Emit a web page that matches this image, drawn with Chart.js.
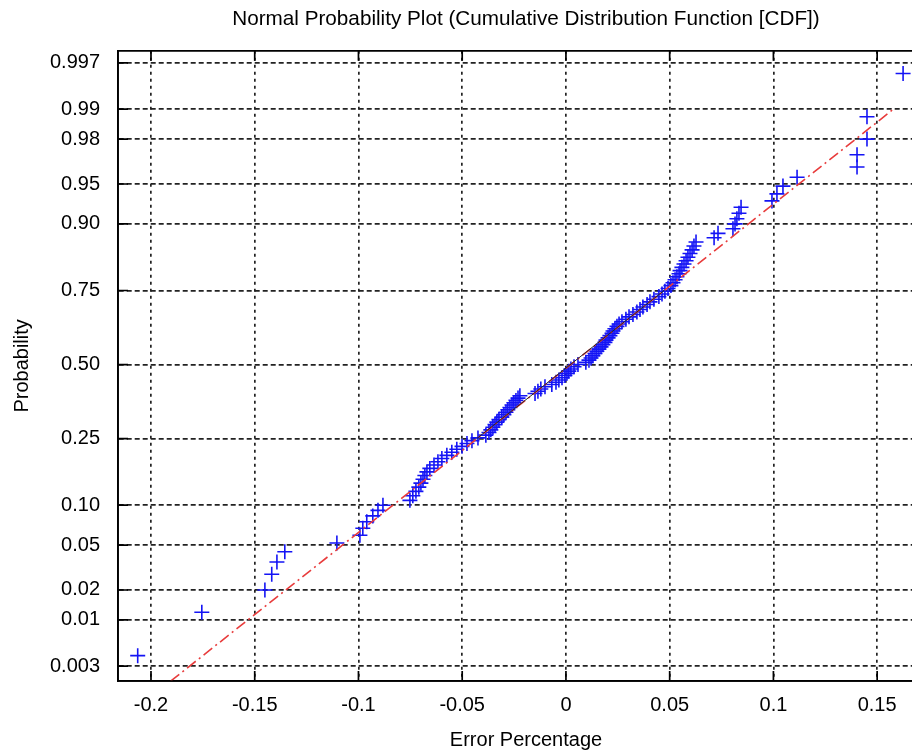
<!DOCTYPE html>
<html><head><meta charset="utf-8">
<script src="https://cdn.jsdelivr.net/npm/chart.js@4.4.1/dist/chart.umd.min.js"></script>
<style>
html,body{margin:0;padding:0;background:#fff;overflow:hidden;}
#wrap{position:relative;width:1052px;height:752px;}
</style></head><body>
<div id="wrap"><canvas id="c"></canvas></div>
<script>
// ---- data ----
const errorValues = [
 -0.2064,-0.1755,-0.1451,-0.1418,-0.1393,-0.1355,-0.1104,-0.0993,-0.0979,-0.0960,
 -0.0931,-0.0906,-0.0882,-0.0752,-0.0738,-0.0723,-0.0709,-0.0699,-0.0689,-0.0680,
 -0.0670,-0.0656,-0.0636,-0.0617,-0.0598,-0.0574,-0.0550,-0.0526,-0.0501,-0.0477,
 -0.0453,-0.0424,-0.0386,-0.0371,-0.0362,-0.0352,-0.0342,-0.0333,-0.0323,-0.0309,
 -0.0299,-0.0289,-0.0280,-0.0270,-0.0260,-0.0251,-0.0241,-0.0231,-0.0222,-0.0149,
 -0.0135,-0.0121,-0.0101,-0.0068,-0.0048,-0.0034,-0.0019,-0.0005,0.0005,0.0014,
 0.0024,0.0039,0.0058,0.0096,0.0111,0.0121,0.0130,0.0140,0.0149,0.0159,
 0.0169,0.0178,0.0188,0.0193,0.0203,0.0212,0.0222,0.0227,0.0236,0.0246,
 0.0256,0.0270,0.0289,0.0304,0.0323,0.0342,0.0357,0.0371,0.0391,0.0405,
 0.0424,0.0448,0.0463,0.0477,0.0492,0.0506,0.0516,0.0526,0.0535,0.0545,
 0.0550,0.0559,0.0569,0.0579,0.0588,0.0598,0.0608,0.0617,0.0627,0.0714,
 0.0733,0.0805,0.0815,0.0824,0.0834,0.0844,0.0993,0.1017,0.1046,0.1114,
 0.1403,0.1403,0.1451,0.1451,0.1625
];
const probabilities = [
 0.004,0.012,0.020,0.028,0.036,0.044,0.052,0.060,0.068,0.076,
 0.084,0.092,0.100,0.108,0.116,0.124,0.132,0.140,0.148,0.156,
 0.164,0.172,0.180,0.188,0.196,0.204,0.212,0.220,0.228,0.236,
 0.244,0.252,0.260,0.268,0.276,0.284,0.292,0.300,0.308,0.316,
 0.324,0.332,0.340,0.348,0.356,0.364,0.372,0.380,0.388,0.396,
 0.404,0.412,0.420,0.428,0.436,0.444,0.452,0.460,0.468,0.476,
 0.484,0.492,0.500,0.508,0.516,0.524,0.532,0.540,0.548,0.556,
 0.564,0.572,0.580,0.588,0.596,0.604,0.612,0.620,0.628,0.636,
 0.644,0.652,0.660,0.668,0.676,0.684,0.692,0.700,0.708,0.716,
 0.724,0.732,0.740,0.748,0.756,0.764,0.772,0.780,0.788,0.796,
 0.804,0.812,0.820,0.828,0.836,0.844,0.852,0.860,0.868,0.876,
 0.884,0.892,0.900,0.908,0.916,0.924,0.932,0.940,0.948,0.956,
 0.964,0.972,0.980,0.988,0.996
];
const fitLineX = [-0.2064, 0.1586];
const fitLineP = [0.0009, 0.9903];
const quartileLineX = [-0.0430, 0.0473];
const quartileLineP = [0.25, 0.75];
const xTickValues = [-0.2, -0.15, -0.1, -0.05, 0, 0.05, 0.1, 0.15];
const xTickLabels = ['-0.2', '-0.15', '-0.1', '-0.05', '0', '0.05', '0.1', '0.15'];
const yTickProbs  = [0.003, 0.01, 0.02, 0.05, 0.10, 0.25, 0.50, 0.75, 0.90, 0.95, 0.98, 0.99, 0.997];
const yTickLabels = ['0.003', '0.01', '0.02', '0.05', '0.10', '0.25', '0.50', '0.75', '0.90', '0.95', '0.98', '0.99', '0.997'];

// probability -> standard normal quantile (probit axis)
function probit(p) {
  const a = [-3.969683028665376e+01, 2.209460984245205e+02, -2.759285104469687e+02, 1.383577518672690e+02, -3.066479806614716e+01, 2.506628277459239e+00];
  const b = [-5.447609879822406e+01, 1.615858368580409e+02, -1.556989798598866e+02, 6.680131188771972e+01, -1.328068155288572e+01];
  const c = [-7.784894002430293e-03, -3.223964580411365e-01, -2.400758277161838e+00, -2.549732539343734e+00, 4.374664141464968e+00, 2.938163982698783e+00];
  const d = [7.784695709041462e-03, 3.224671290700398e-01, 2.445134137142996e+00, 3.754408661907416e+00];
  const pl = 0.02425, ph = 1 - pl;
  let q, r;
  if (p < pl) { q = Math.sqrt(-2 * Math.log(p)); return (((((c[0]*q+c[1])*q+c[2])*q+c[3])*q+c[4])*q+c[5]) / ((((d[0]*q+d[1])*q+d[2])*q+d[3])*q+1); }
  if (p <= ph) { q = p - 0.5; r = q*q; return (((((a[0]*r+a[1])*r+a[2])*r+a[3])*r+a[4])*r+a[5])*q / (((((b[0]*r+b[1])*r+b[2])*r+b[3])*r+b[4])*r+1); }
  q = Math.sqrt(-2 * Math.log(1 - p)); return -(((((c[0]*q+c[1])*q+c[2])*q+c[3])*q+c[4])*q+c[5]) / ((((d[0]*q+d[1])*q+d[2])*q+d[3])*q+1);
}

Chart.defaults.font.family = "'Liberation Sans', Arial, sans-serif";
Chart.defaults.color = '#000';

const frameTicks = {
  id: 'frameTicks',
  afterDatasetsDraw(chart) {
    const {ctx, chartArea: a, scales: {x, y}} = chart;
    ctx.save();
    ctx.strokeStyle = '#000'; ctx.lineWidth = 1.7; ctx.setLineDash([]);
    ctx.beginPath();
    ctx.moveTo(a.left, a.top); ctx.lineTo(a.right, a.top); ctx.lineTo(a.right, a.bottom);
    ctx.moveTo(a.left, a.top); ctx.lineTo(a.left, a.bottom); ctx.lineTo(a.right, a.bottom);
    x.ticks.forEach(t => { const px = x.getPixelForValue(t.value);
      ctx.moveTo(px, a.bottom); ctx.lineTo(px, a.bottom - 10);
      ctx.moveTo(px, a.top); ctx.lineTo(px, a.top + 10); });
    y.ticks.forEach(t => { const py = y.getPixelForValue(t.value);
      ctx.moveTo(a.left, py); ctx.lineTo(a.left + 10, py);
      ctx.moveTo(a.right, py); ctx.lineTo(a.right - 10, py); });
    ctx.stroke();
    ctx.restore();
  }
};

new Chart(document.getElementById('c'), {
  type: 'scatter',
  data: {
    datasets: [
      {
        label: 'Data',
        data: errorValues.map((v, i) => ({x: v, y: probit(probabilities[i])})),
        pointStyle: 'cross', pointRadius: 7.5, pointBorderColor: 'rgb(20,20,245)', pointBorderWidth: 1.6,
        borderColor: 'rgb(20,20,245)', showLine: false, order: 2
      },
      {
        label: 'Fit',
        data: fitLineX.map((v, i) => ({x: v, y: probit(fitLineP[i])})),
        showLine: true, borderColor: 'rgb(232,60,60)', borderWidth: 1.6, borderDash: [11, 4, 2, 4],
        pointRadius: 0, order: 1
      },
      {
        label: 'Quartiles',
        data: quartileLineX.map((v, i) => ({x: v, y: probit(quartileLineP[i])})),
        showLine: true, borderColor: 'rgb(40,40,40)', borderWidth: 1,
        pointRadius: 0, order: 0
      }
    ]
  },
  options: {
    responsive: true, maintainAspectRatio: false, animation: false,
    layout: {padding: {left: 0, right: 0, top: 0, bottom: 0}},
    plugins: {
      legend: {display: false}, tooltip: {enabled: false},
      title: {display: true, text: 'Normal Probability Plot (Cumulative Distribution Function [CDF])',
        font: {size: 20.7, weight: 'normal'}, color: '#000', padding: {top: 7, bottom: 19}}
    },
    scales: {
      x: {
        type: 'linear', position: 'bottom', min: -0.2159, max: 0.1774,
        afterBuildTicks: s => { s.ticks = xTickValues.map(v => ({value: v})); },
        afterFit: s => { s.height = 71; },
        ticks: {callback: (v, i) => xTickLabels[i], font: {size: 20}, color: '#000', padding: 12, maxRotation: 0, autoSkip: false},
        grid: {color: '#222', lineWidth: 1.7, drawTicks: false},
        border: {display: true, color: '#000', width: 1.7, dash: [3, 4]},
        title: {display: true, text: 'Error Percentage', font: {size: 20}, color: '#000', padding: {top: 0, bottom: 0}}
      },
      y: {
        type: 'linear', position: 'left', min: -2.883, max: 2.858,
        afterBuildTicks: s => { s.ticks = yTickProbs.map(p => ({value: probit(p)})); },
        afterFit: s => { s.width = 118; },
        ticks: {callback: (v, i) => yTickLabels[i], font: {size: 20}, color: '#000', padding: 18, autoSkip: false},
        grid: {color: '#222', lineWidth: 1.7, drawTicks: false},
        border: {display: true, color: '#000', width: 1.7, dash: [5, 3]},
        title: {display: true, text: 'Probability', font: {size: 20}, color: '#000', padding: {top: 10, bottom: 0}}
      },
      yRight: {
        type: 'linear', position: 'right', display: true,
        afterFit: s => { s.width = 118; },
        ticks: {display: false},
        grid: {display: false, drawOnChartArea: false, drawTicks: false},
        border: {display: false}
      }
    }
  },
  plugins: [frameTicks]
});
</script>
</body></html>
